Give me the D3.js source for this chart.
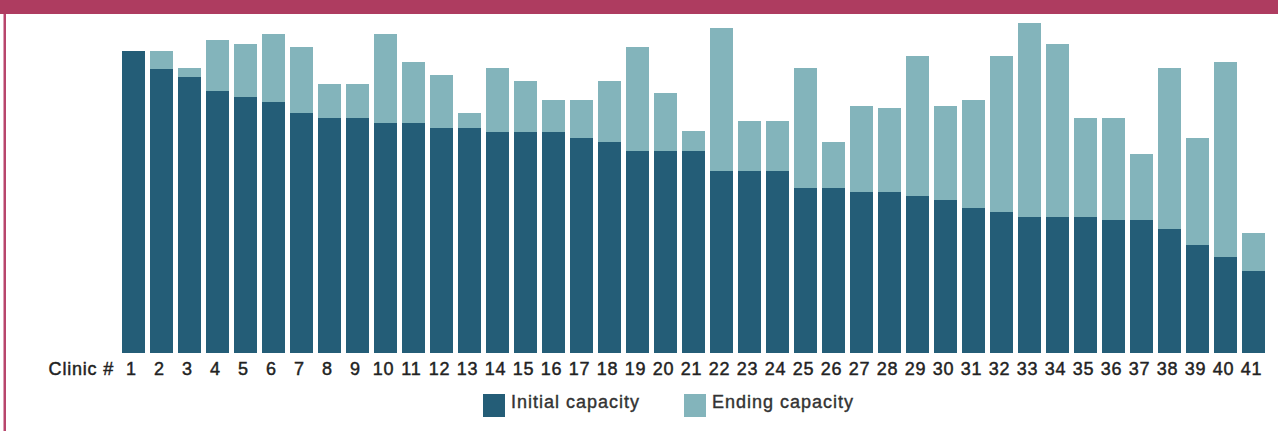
<!DOCTYPE html>
<html>
<head>
<meta charset="utf-8">
<script src="https://cdn.jsdelivr.net/npm/d3@7"></script>
<style>
  body { margin: 0; background: #fff; }
  svg { display: block; }
  .axis text, .axis-title { font-family: "Liberation Sans", Arial, sans-serif; font-size: 18px; fill: #222;
    stroke: #222; stroke-width: 0.45px; letter-spacing: 0.8px; }
  .legend text { font-family: "Liberation Sans", Arial, sans-serif; font-size: 18px; fill: #333;
    stroke: #333; stroke-width: 0.4px; letter-spacing: 1px; }
</style>
</head>
<body>
<div id="chart"></div>
<script>
// clinic numbers along the bottom
var clinics = d3.range(1, 42).map(String);

// capacity at the start (dark) and at the end (light), same arbitrary units
var initialCapacity = [302, 284, 276, 262, 256, 251, 240, 235, 235, 230,
                       230, 225, 225, 221, 221, 221, 215, 211, 202, 202,
                       202, 182, 182, 182, 165, 165, 161, 161, 157, 153,
                       145, 141, 136, 136, 136, 133, 133, 124, 108, 96,
                       82];
var endingCapacity = [302, 302, 285, 313, 309, 319, 306, 269, 269, 319,
                      291, 278, 240, 285, 272, 253, 253, 272, 306, 260,
                      222, 325, 232, 232, 285, 211, 247, 245, 297, 247,
                      253, 297, 330, 309, 235, 235, 199, 285, 215, 291,
                      120];

var seriesNames = ["Initial capacity", "Ending capacity"];
var colors = ["#245d77", "#83b4bb"];

var data = clinics.map(function (c, i) {
    return {clinic: c, initial: initialCapacity[i], ending: endingCapacity[i]};
});

var W = 1278, H = 431;
var baseY = 353, topY = 23;

var svg = d3.select("#chart").append("svg")
    .attr("width", W)
    .attr("height", H);

// frame: header strip and left rule
svg.append("rect")
    .attr("x", 0).attr("y", 0)
    .attr("width", W).attr("height", 14)
    .attr("fill", "#ae3c60");
svg.append("rect")
    .attr("x", 3.5).attr("y", 14)
    .attr("width", 2.5).attr("height", H - 14)
    .attr("fill", "#b8456c");

var x = d3.scaleBand()
    .domain(clinics)
    .range([122, 1265])
    .paddingInner(5 / 28)
    .paddingOuter(0);

var y = d3.scaleLinear()
    .domain([0, 330])
    .range([baseY, topY]);

// ending capacity sits behind, initial drawn over it
svg.append("g").selectAll("rect")
    .data(data)
    .enter().append("rect")
    .attr("x", function (d) { return x(d.clinic); })
    .attr("y", function (d) { return y(d.ending); })
    .attr("width", x.bandwidth())
    .attr("height", function (d) { return y(0) - y(d.ending); })
    .attr("fill", colors[1]);

svg.append("g").selectAll("rect")
    .data(data)
    .enter().append("rect")
    .attr("x", function (d) { return x(d.clinic); })
    .attr("y", function (d) { return y(d.initial); })
    .attr("width", x.bandwidth())
    .attr("height", function (d) { return y(0) - y(d.initial); })
    .attr("fill", colors[0]);

var axis = svg.append("g")
    .attr("class", "axis")
    .attr("transform", "translate(0," + baseY + ")")
    .call(d3.axisBottom(x).tickSize(0).tickPadding(0));
axis.select(".domain").remove();
axis.selectAll("text")
    .attr("dx", "-2")
    .attr("dy", null)
    .attr("y", 22);

svg.append("text")
    .attr("class", "axis-title")
    .attr("x", 114)
    .attr("y", baseY + 22)
    .attr("text-anchor", "end")
    .text("Clinic #");

// legend
var legendX = [483, 684];
var legend = svg.append("g").attr("class", "legend")
    .selectAll("g")
    .data(seriesNames)
    .enter().append("g")
    .attr("transform", function (d, i) { return "translate(" + legendX[i] + ",394)"; });

legend.append("rect")
    .attr("width", 22)
    .attr("height", 23)
    .attr("fill", function (d, i) { return colors[i]; });

legend.append("text")
    .attr("x", 28)
    .attr("y", 14)
    .text(function (d) { return d; });
</script>
</body>
</html>
